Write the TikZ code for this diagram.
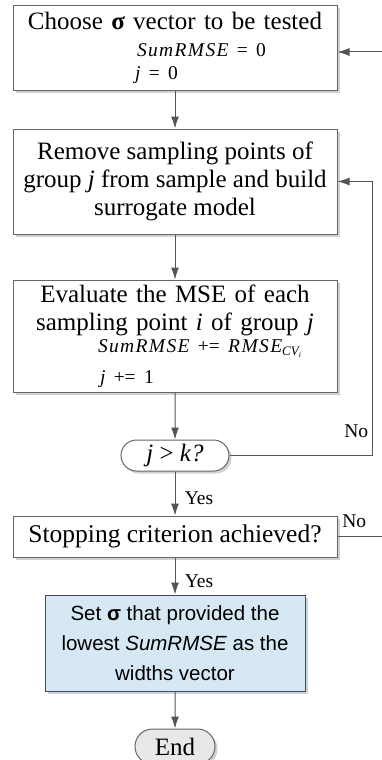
\documentclass[tikz,border=0pt]{standalone}
\usepackage{fontspec}
\setmainfont{Liberation Serif}
\setsansfont{Liberation Sans}
\usetikzlibrary{positioning,shapes.misc,shadows,arrows.meta}

\definecolor{edgegray}{RGB}{85,85,85}
\definecolor{boxblue}{RGB}{214,232,243}
\definecolor{endgray}{RGB}{232,232,232}

\newcommand{\smallit}[1]{{\fontsize{19.5}{23}\selectfont\itshape\addfontfeatures{LetterSpace=7}#1}}
\newcommand{\smallrm}[1]{{\fontsize{19.5}{23}\selectfont #1}}
\newcommand{\subline}[2]{\makebox[310pt][l]{\hspace*{#1}#2}}

\begin{document}
\begin{tikzpicture}[x=1pt, y=1pt, >={Latex[length=12pt,width=8pt]},
  box/.style={draw=edgegray!90, line width=1pt, fill=white, align=center,
    drop shadow={shadow xshift=2.5pt, shadow yshift=-2.5pt, fill=black!18, opacity=1},
    font=\fontsize{25}{28}\selectfont},
  term/.style={box, rounded rectangle},
  line/.style={draw=edgegray, line width=1pt},
  lab/.style={font=\fontsize{19.5}{22}\selectfont}]
  \useasboundingbox (0,0) rectangle (382,-760);

  \node[box, text width=310pt, minimum width=324pt, minimum height=84pt, inner sep=0pt] (choose) at (175,-48)
    {Choose \textbf{σ} vector to be tested\\[-1pt]
     \subline{117pt}{\smallit{SumRMSE} \smallrm{= 0}}\\[-5pt]
     \subline{115pt}{\smallit{j} \smallrm{= 0}}};
  \node[box, minimum width=324pt, minimum height=105pt, below=38pt of choose] (remove)
    {Remove sampling points of\\ group \textit{j} from sample and build\\ surrogate model};
  \node[box, text width=310pt, minimum width=324pt, minimum height=112pt, inner sep=0pt,
    below=45pt of remove] (evaluate)
    {Evaluate the MSE of each\\ sampling point \textit{i} of group \textit{j}\\[-6pt]
     \subline{78pt}{\smallit{SumRMSE} \smallrm{+=} \smallit{RMSE}{\fontsize{13}{13}\selectfont\itshape\raisebox{-3pt}{CV\raisebox{-2pt}{\fontsize{8}{8}\selectfont i}}}}\\[3pt]
     \subline{80pt}{\smallit{j} \smallrm{+= 1}}};
  \node[term, minimum width=112pt, minimum height=31pt, inner sep=2pt, below=47pt of evaluate] (test)
    {\textit{j} > \textit{k?}};
  \node[box, minimum width=324pt, minimum height=41pt, inner sep=2pt,
    font=\fontsize{25.5}{28}\selectfont, below=44pt of test] (stop)
    {Stopping criterion achieved?};
  \node[box, fill=boxblue, draw=edgegray!80!blue, minimum width=260pt, minimum height=96pt,
    font=\sffamily\fontsize{20.5}{30}\selectfont, below=37pt of stop] (set)
    {Set \textbf{σ} that provided the\\ lowest \textit{SumRMSE} as the\\ widths vector};
  \node[term, fill=endgray, minimum width=84pt, minimum height=35pt, inner sep=2pt, below=37pt of set] (end)
    {End};

  \coordinate (back) at (382,-52);
  \coordinate (loop) at (372,-457);
  \coordinate (out) at (382,-533);

  \draw[line, ->] (back) -- (back -| choose.east);
  \draw[line, ->] (choose) -- (remove);
  \draw[line, ->] (remove) -- (evaluate);
  \draw[line, ->] (evaluate) -- (test);
  \draw[line, ->] (test.east) -- (test.east -| loop) node[lab, above left, yshift=14pt] {No} |- (remove.east);
  \draw[line, ->] (test) -- node[lab, right, xshift=6pt, yshift=-5pt] {Yes} (stop);
  \draw[line] (stop.east) -- (stop.east -| out) node[lab, above left, xshift=-12pt, yshift=5pt] {No};
  \draw[line, ->] (stop) -- node[lab, right, xshift=6pt, yshift=-5pt] {Yes} (set);
  \draw[line, ->] (set) -- (end);
\end{tikzpicture}
\end{document}
